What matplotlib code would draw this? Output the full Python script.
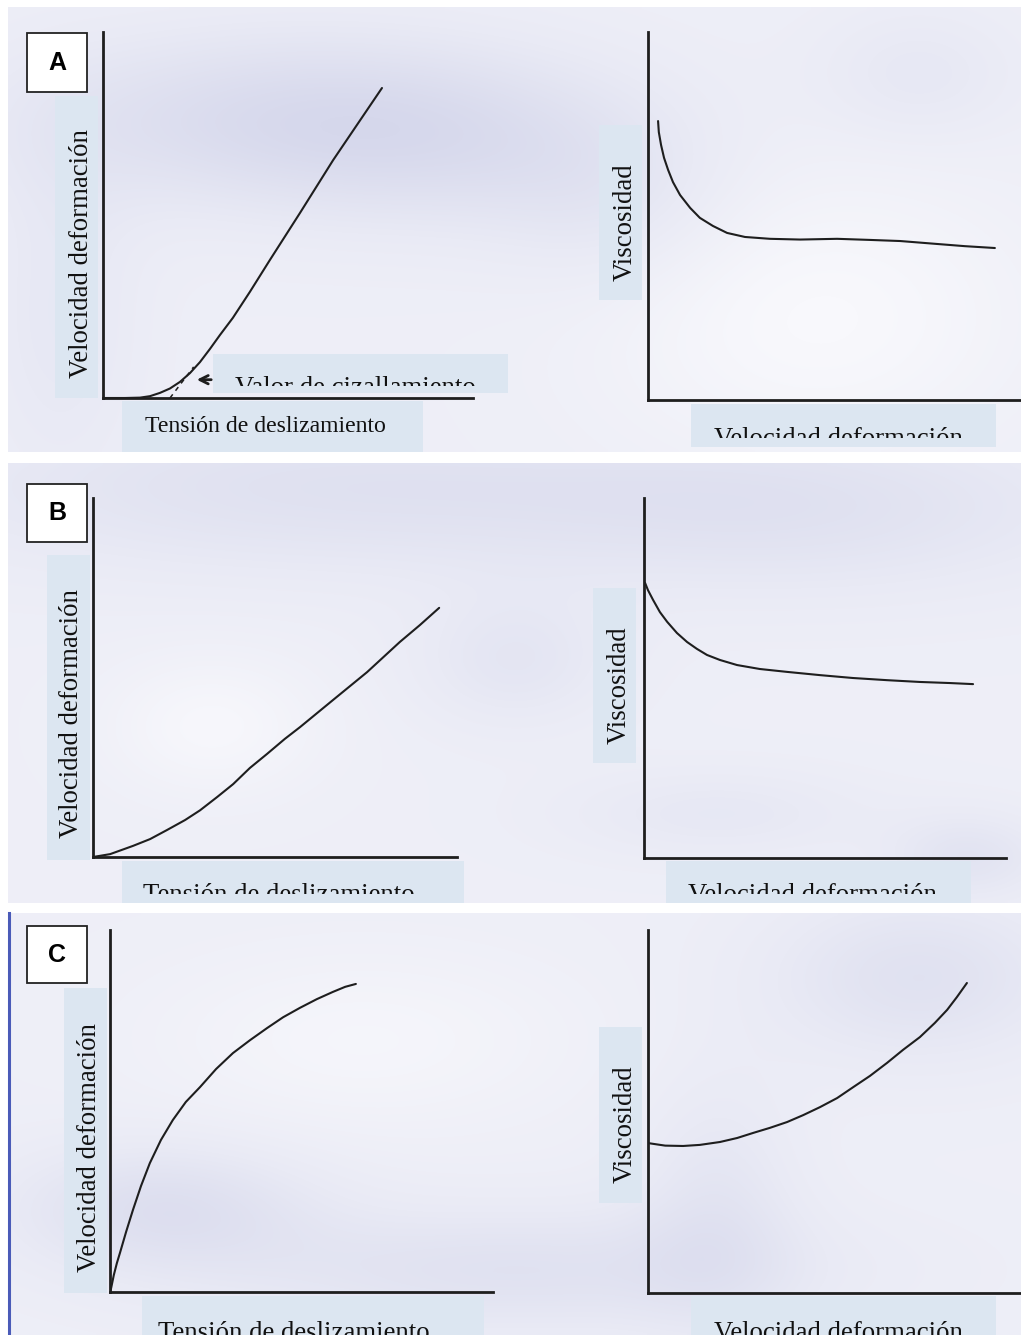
import numpy as np
import matplotlib
matplotlib.use("Agg")
import matplotlib.pyplot as plt
from matplotlib.patches import Rectangle
from matplotlib.colors import LinearSegmentedColormap

# ---------------- data (relative units 0-100 on each axis) ----------------
# Panel A – plastic flow: shear rate vs shear stress
a_stress = [0, 5.9, 10.0, 12.7, 15.4, 18.1, 20.8, 23.5, 26.2, 28.9, 31.6, 35.1,
            39.7, 45.1, 53.2, 62.2, 69.5, 75.4]
a_rate = [0, 0, 0.1, 0.5, 1.4, 2.6, 4.4, 6.8, 9.8, 13.4, 17.2, 21.9,
          29.0, 37.7, 50.5, 65.0, 75.9, 84.7]
a_yield_line_x = [18.1, 24.5]
a_yield_line_y = [0, 8.5]
# Panel A – viscosity vs shear rate
a_rate2 = [2.7, 2.9, 3.5, 4.3, 5.4, 6.7, 8.6, 11.3, 13.9, 17.4, 21.2, 26.0,
           32.7, 40.8, 50.7, 59.5, 67.6, 77.5, 85.0, 93.0]
a_visc = [75.8, 72.8, 69.3, 65.8, 62.5, 59.2, 55.7, 52.2, 49.5, 47.3, 45.4, 44.3,
          43.8, 43.6, 43.8, 43.5, 43.2, 42.4, 41.8, 41.3]

# Panel B – pseudoplastic flow
b_stress = [0, 4.7, 11.0, 15.7, 20.3, 25.3, 29.4, 34.1, 38.5, 43.1, 47.8, 52.7,
            56.9, 65.9, 75.3, 84.3, 89.8, 95.1]
b_rate = [0, 0.8, 3.1, 5.0, 7.5, 10.3, 13.0, 16.7, 20.3, 24.8, 28.7, 32.9,
          36.2, 43.7, 51.5, 59.9, 64.6, 69.4]
b_rate2 = [0.3, 1.1, 2.5, 4.4, 6.4, 9.1, 11.9, 14.6, 17.4, 21.0, 25.7, 32.0,
           39.5, 48.6, 57.7, 67.1, 76.2, 84.5, 90.9]
b_visc = [76.4, 74.4, 71.7, 68.3, 65.6, 62.5, 60.0, 58.1, 56.4, 55.0, 53.6, 52.5,
          51.7, 50.8, 50.0, 49.4, 48.9, 48.6, 48.3]

# Panel C – dilatant flow
c_stress = [0, 0.3, 1.0, 1.8, 2.6, 4.2, 6.0, 8.1, 10.4, 13.3, 16.4, 19.8, 23.5,
            27.7, 32.1, 36.6, 41.0, 45.2, 49.6, 54.0, 58.2, 61.4, 64.2]
c_rate = [0, 1.1, 4.7, 8.0, 10.8, 16.6, 22.7, 29.3, 35.6, 42.0, 47.5, 52.5, 56.6,
          61.6, 66.0, 69.6, 72.9, 75.9, 78.5, 80.9, 82.9, 84.3, 85.1]
c_rate2 = [0, 4.6, 9.4, 13.9, 19.3, 23.9, 28.2, 32.7, 37.3, 41.6, 46.1, 50.7,
           55.0, 59.5, 64.1, 68.4, 72.9, 76.9, 80.2, 82.8, 85.5]
c_visc = [41.3, 40.6, 40.5, 40.8, 41.6, 42.7, 44.1, 45.5, 47.1, 49.0, 51.2, 53.7,
          56.7, 59.8, 63.4, 67.0, 70.5, 74.4, 78.0, 81.5, 85.4]

ylab_rate = "Velocidad deformación"
xlab_stress = "Tensión de deslizamiento"
ylab_visc = "Viscosidad"
yield_label = "Valor de cizallamiento"
panel_letters = ["A", "B", "C"]

# ---------------- figure ----------------
W, H = 1021, 1335
fig = plt.figure(figsize=(W / 100, H / 100), dpi=100)
fig.patch.set_facecolor("white")

bg = fig.add_axes([0, 0, 1, 1])
bg.set_xlim(0, W)
bg.set_ylim(H, 0)
bg.axis("off")
bg.set_zorder(0)

cmap = LinearSegmentedColormap.from_list("lav", ["#FAFAFD", "#E9EAF5", "#D4D6EB"])


def blob_bg(x0, y0, x1, y1, blobs):
    nx, ny = 240, 110
    xs = np.linspace(0, 1, nx)
    ys = np.linspace(0, 1, ny)
    X, Y = np.meshgrid(xs, ys)
    Z = np.full_like(X, 0.35)
    for cx, cy, sx, sy, amp in blobs:
        Z += amp * np.exp(-(((X - cx) / sx) ** 2 + ((Y - cy) / sy) ** 2))
    Z = np.clip(Z, 0, 1)
    bg.imshow(Z, extent=(x0, x1, y1, y0), origin="upper", cmap=cmap,
              vmin=0, vmax=1, aspect="auto", interpolation="bilinear", zorder=0)


# panel strips
blob_bg(8, 7, W, 452, [(0.25, 0.25, 0.25, 0.2, 0.45), (0.45, 0.3, 0.2, 0.2, 0.3),
                       (0.8, 0.7, 0.2, 0.3, -0.3), (0.05, 0.7, 0.08, 0.4, 0.2),
                       (0.6, 0.45, 0.12, 0.2, 0.2), (0.9, 0.15, 0.1, 0.15, 0.2)])
blob_bg(8, 463, W, 903, [(0.3, 0.05, 0.4, 0.2, 0.35), (0.5, 0.45, 0.1, 0.15, 0.25),
                         (0.8, 0.1, 0.3, 0.2, 0.3), (0.2, 0.6, 0.1, 0.15, -0.25),
                         (0.7, 0.8, 0.15, 0.1, 0.2), (0.95, 0.9, 0.08, 0.1, 0.3)])
blob_bg(8, 913, W, H, [(0.15, 0.7, 0.15, 0.15, 0.4), (0.5, 0.85, 0.3, 0.15, 0.35),
                       (0.9, 0.15, 0.15, 0.2, 0.35), (0.7, 0.7, 0.08, 0.3, 0.25),
                       (0.35, 0.3, 0.2, 0.2, -0.2)])
bg.plot([9, 9], [913, H], color="#4A5BB8", lw=2.2, zorder=2)

BOX = "#DCE6F1"
SERIF = ["Liberation Serif", "DejaVu Serif"]
FS = 19.3


def box(x0, y0, x1, y1):
    bg.add_patch(Rectangle((x0, y0), x1 - x0, y1 - y0, facecolor=BOX,
                           edgecolor="none", zorder=2))


def clipped_text(x, y, s, clip, rot=0, ha="center", va="center", size=FS):
    t = bg.text(x, y, s, rotation=rot, ha=ha, va=va, fontsize=size,
                family=SERIF, color="#111111", zorder=3, clip_on=True)
    cx0, cy0, cx1, cy1 = clip
    r = Rectangle((cx0, cy0), cx1 - cx0, cy1 - cy0, transform=bg.transData)
    t.set_clip_path(r)
    return t


def letter(y0, y1, s):
    bg.add_patch(Rectangle((27, y0), 60, y1 - y0, facecolor="white",
                           edgecolor="#222222", lw=1.3, zorder=3))
    bg.text(57, (y0 + y1) / 2, s, ha="center", va="center", fontsize=18,
            fontweight="bold", family=["Liberation Sans", "DejaVu Sans"], zorder=4)


FULL = (0, 0, W, H)
# ---- label boxes & texts ----
# A left
box(55, 96, 98, 398)
clipped_text(81, 254, ylab_rate, FULL, rot=90)
box(122, 401, 423, 452)
clipped_text(265, 427, xlab_stress, FULL, size=17.1)
box(213, 354, 508, 393)
clipped_text(355, 395, yield_label, (213, 354, 508, 386), va="baseline")
# A right
box(599, 125, 642, 300)
clipped_text(625, 222, ylab_visc, FULL, rot=90)
box(691, 404, 996, 447)
clipped_text(838, 446, ylab_rate, (691, 404, 996, 438), va="baseline")
# B left
box(47, 555, 90, 860)
clipped_text(72, 714, ylab_rate, FULL, rot=90)
box(122, 861, 464, 903)
clipped_text(279, 902, xlab_stress, (122, 861, 464, 894), va="baseline")
# B right
box(593, 588, 636, 763)
clipped_text(619, 685, ylab_visc, FULL, rot=90)
box(666, 861, 971, 903)
clipped_text(812, 902, ylab_rate, (666, 861, 971, 894), va="baseline")
# C left
box(64, 988, 107, 1293)
clipped_text(89, 1148, ylab_rate, FULL, rot=90)
box(142, 1296, 484, H)
clipped_text(294, 1340, xlab_stress, (142, 1296, 484, H), va="baseline")
# C right
box(599, 1027, 642, 1203)
clipped_text(625, 1124, ylab_visc, FULL, rot=90)
box(691, 1296, 996, H)
clipped_text(838, 1340, ylab_rate, (691, 1296, 996, H), va="baseline")

letter(33, 92, panel_letters[0])
letter(484, 542, panel_letters[1])
letter(926, 983, panel_letters[2])


# ---- plot axes ----
def make_ax(left, right, top, bottom):
    ax = fig.add_axes([left / W, 1 - bottom / H, (right - left) / W, (bottom - top) / H])
    ax.set_xlim(0, 100)
    ax.set_ylim(0, 100)
    ax.patch.set_alpha(0)
    for s in ("top", "right"):
        ax.spines[s].set_visible(False)
    for s in ("left", "bottom"):
        ax.spines[s].set_linewidth(2.0)
        ax.spines[s].set_color("#1E1E1E")
    ax.set_xticks([])
    ax.set_yticks([])
    ax.set_zorder(5)
    return ax


LC = "#1E1E1E"
LW = 1.5
kw = dict(color=LC, lw=LW, solid_joinstyle="round", solid_capstyle="round")

axA1 = make_ax(103, 473, 32, 398)
axA1.plot(a_stress, a_rate, **kw)
axA1.plot(a_yield_line_x, a_yield_line_y, color=LC, lw=1.1, ls=(0, (3, 3)))
axA1.annotate("", xy=(24.6, 5.0), xytext=(30.0, 5.0),
              arrowprops=dict(arrowstyle="->", color=LC, lw=2.0, mutation_scale=15))

axA2 = make_ax(648, W, 32, 400)
axA2.plot(a_rate2, a_visc, **kw)

axB1 = make_ax(93, 457, 498, 857)
axB1.plot(b_stress, b_rate, **kw)

axB2 = make_ax(644, 1006, 498, 858)
axB2.plot(b_rate2, b_visc, **kw)

axC1 = make_ax(110, 493, 930, 1292)
axC1.plot(c_stress, c_rate, **kw)

axC2 = make_ax(648, W, 930, 1293)
axC2.plot(c_rate2, c_visc, **kw)

fig.savefig("out.png", dpi=100, facecolor="white")
